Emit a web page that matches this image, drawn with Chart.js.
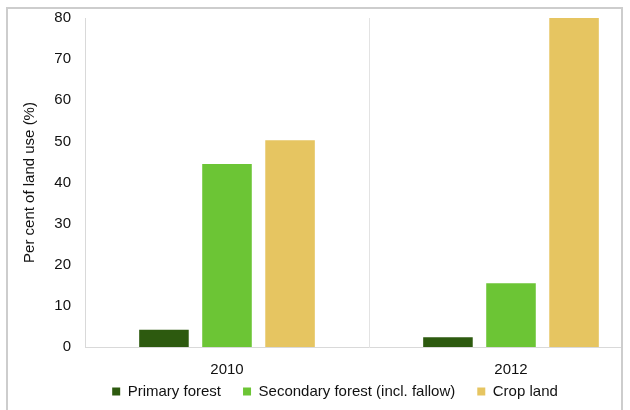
<!DOCTYPE html>
<html>
<head>
<meta charset="utf-8">
<script src="https://cdn.jsdelivr.net/npm/chart.js@4/dist/chart.umd.min.js"></script>
<style>
  html, body { margin: 0; padding: 0; background: #fff; width: 630px; height: 410px; overflow: hidden; }
  #clip { position: absolute; left: 0; top: 0; width: 621px; height: 410px; overflow: hidden; }
  #box { position: absolute; left: 0; top: 0; width: 680px; height: 440px; }
  #frame { position: absolute; left: 6px; top: 7px; width: 613px; height: 420px;
           border: 2px solid #cdcdcd; pointer-events: none; }
</style>
</head>
<body>
<div id="clip"><div id="box"><canvas id="c"></canvas></div></div>
<div id="frame"></div>
<script>
// Land use shares by year
const years = ['2010', '2012'];
const primaryForest = [4.2, 2.4];
const secondaryForest = [44.5, 15.5];
const cropLand = [50.3, 80];
const seriesNames = ['Primary forest', 'Secondary forest (incl. fallow)', 'Crop land'];
const yTitle = 'Per cent of land use (%)';

const FONT = '"Liberation Sans", Arial, sans-serif';
const TEXT = '#111111';
Chart.defaults.font.family = FONT;
Chart.defaults.font.size = 15;
Chart.defaults.color = TEXT;

const barOpts = { categoryPercentage: 0.666, barPercentage: 0.786, borderWidth: 0 };

// Pull the legend row up closer to the category labels
const legendNudge = {
  id: 'legendNudge',
  afterLayout(chart) {
    const lg = chart.legend;
    if (lg) { lg.top -= 31; lg.bottom -= 31; }
  }
};

new Chart(document.getElementById('c'), {
  type: 'bar',
  data: {
    labels: years,
    datasets: [
      { label: seriesNames[0], data: primaryForest, backgroundColor: '#2d5a0f', ...barOpts },
      { label: seriesNames[1], data: secondaryForest, backgroundColor: '#6cc535', ...barOpts },
      { label: seriesNames[2], data: cropLand, backgroundColor: '#e6c561', ...barOpts }
    ]
  },
  plugins: [legendNudge],
  options: {
    responsive: true,
    maintainAspectRatio: false,
    animation: false,
    layout: { padding: { left: 17, right: 27, top: 18, bottom: 0 } },
    plugins: {
      tooltip: { enabled: false },
      legend: {
        position: 'bottom',
        labels: { boxWidth: 8, boxHeight: 8, padding: 22, color: TEXT, font: { size: 15 } }
      }
    },
    scales: {
      x: {
        grid: { display: true, offset: true, drawTicks: false, color: '#e3e3e3', lineWidth: 1 },
        border: { display: true, color: '#d9d9d9', width: 1 },
        ticks: { padding: 14, color: TEXT, font: { size: 15 } }
      },
      y: {
        min: 0, max: 80,
        grid: { display: false, drawTicks: false },
        border: { display: true, color: '#d9d9d9', width: 1 },
        ticks: { stepSize: 10, padding: 14, color: TEXT, font: { size: 15 } },
        title: { display: true, text: yTitle, color: TEXT, font: { size: 15 }, padding: { top: 4, bottom: 17 } },
        afterFit(scale) {
          scale.width = 68;
          scale.paddingTop = 0;
          scale.paddingBottom = 0;
        }
      }
    }
  }
});
</script>
</body>
</html>
